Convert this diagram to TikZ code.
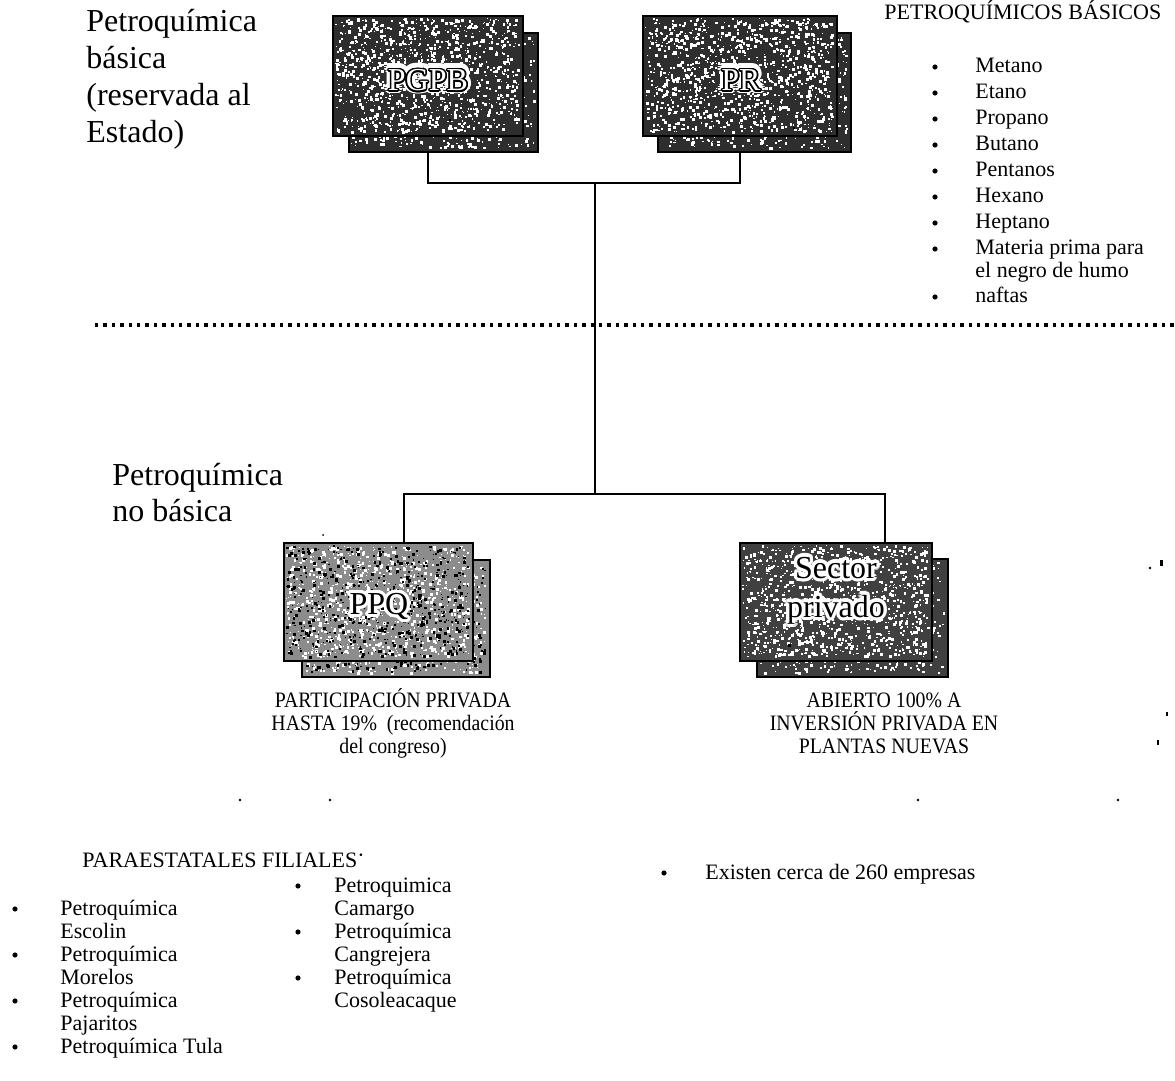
\documentclass[tikz,border=0pt]{standalone}
\usepackage{fontspec}
\setmainfont{Liberation Serif}
\newfontfamily\condfont[FakeStretch=0.9]{Liberation Serif}
\usepackage{contour}
\tikzset{
  conn/.style={line width=1pt, draw=black},
  dotline/.style={line width=1.7pt, dash pattern=on 1.7pt off 2.5pt},
  boxshape/.style={draw=black, line width=1.3pt, anchor=north west, inner sep=0pt, outer sep=0pt},
  blt/.style={circle, fill=black, inner sep=0pt, minimum size=2.6pt},
  small/.style={font=\fontsize{11}{13}\selectfont, inner sep=0pt},
  captxt/.style={font=\condfont\fontsize{11}{13}\selectfont, inner sep=0pt, anchor=base},
  big/.style={font=\fontsize{16}{18}\selectfont, inner sep=0pt, anchor=base west},
  boxlbl/.style={font=\fontsize{16}{19.5}\selectfont, inner sep=0pt, align=center},
}
\newcommand\speckbox[8]{%
  \node[boxshape, fill=#6, minimum width={(#4-#2)*0.5pt}, minimum height={(#5-#3)*0.5pt}] (#1) at (#2,#3) {};
  \foreach \k in {1,...,#7}{%
    \pgfmathsetmacro\sx{#2+2+rnd*(#4-#2-7)}%
    \pgfmathsetmacro\sy{#3+2+rnd*(#5-#3-7)}%
    \pgfmathsetmacro\ss{0.8+rnd*2.4}%
    \fill[white] (\sx,\sy) rectangle ++(\ss,\ss);
  }
  \foreach \k in {1,...,#8}{%
    \pgfmathsetmacro\sx{#2+2+rnd*(#4-#2-7)}%
    \pgfmathsetmacro\sy{#3+2+rnd*(#5-#3-7)}%
    \pgfmathsetmacro\ss{0.8+rnd*2.4}%
    \fill[black] (\sx,\sy) rectangle ++(\ss,\ss);
  }
}
\begin{document}
\begin{tikzpicture}[x=0.5pt,y=-0.5pt]
\pgfmathsetseed{7}
\fill[white] (0,0) rectangle (1175,1081);
\useasboundingbox (0,0) rectangle (1175,1081);

% ---------- upper boxes ----------
\speckbox{pgpbB}{349}{33}{538}{152}{black!82}{700}{1}
\speckbox{pgpb}{333}{16}{523}{136}{black!82}{1100}{1}
\speckbox{prB}{658}{33}{851}{152}{black!82}{700}{1}
\speckbox{pr}{643}{16}{837}{136}{black!82}{1100}{1}

\node[boxlbl] (lPGPBh) at (428,81) {\contourlength{2.4pt}\contour{white}{\textcolor{white}{PGPB}}};
\node[boxlbl] (lPGPB) at (428,81) {\contourlength{0.8pt}\contour{black}{\textcolor{white}{PGPB}}};
\node[boxlbl] (lPRh) at (741,81) {\contourlength{2.4pt}\contour{white}{\textcolor{white}{PR}}};
\node[boxlbl] (lPR) at (741,81) {\contourlength{0.8pt}\contour{black}{\textcolor{white}{PR}}};

% ---------- lower boxes ----------
\speckbox{ppqB}{302}{560}{490}{677}{black!45}{700}{450}
\speckbox{ppq}{284}{543}{473}{661}{black!45}{900}{600}
\speckbox{secB}{757}{559}{948}{677}{black!75}{700}{1}
\speckbox{sec}{740}{543}{932}{661}{black!75}{1000}{1}

\node[boxlbl] (lPPQ) at (379,608) {\contourlength{1.6pt}\contour{white}{PPQ}};
\node[boxlbl] (lSec) at (836,592) {\contourlength{1.6pt}\contour{white}{Sector}\\\contourlength{1.6pt}\contour{white}{privado}};

% ---------- connectors ----------
\coordinate (j1) at (595,183);
\coordinate (j2) at (595,494);
\coordinate (c1) at (404,494);
\coordinate (c2) at (885,494);
\draw[conn] (pgpb.center |- pgpbB.south) |- (j1) -| (pr.center |- prB.south);
\draw[conn] (j1) -- (j2);
\draw[conn] (c1 |- ppq.north) -- (c1) -- (c2) -- (c2 |- sec.north);

% dotted separator
\coordinate (d1) at (95,325);
\coordinate (d2) at (1175,325);
\draw[dotline] (d1) -- (d2);

% ---------- big labels ----------
\node[big] (tb1) at (86,32) {Petroquímica};
\node[big] (tb2) at (86,69) {básica};
\node[big] (tb3) at (86,106) {(reservada al};
\node[big] (tb4) at (86,143) {Estado)};
\node[big] (tn1) at (112,486) {Petroquímica};
\node[big] (tn2) at (112,522) {no básica};

% ---------- petroquimicos basicos ----------
\node[small, anchor=base west] (hdrPB) at (884,20) {PETROQUÍMICOS BÁSICOS};
\foreach \t/\yy/\bl [count=\i] in {Metano/73/1, Etano/99/1, Propano/125/1, Butano/151/1, Pentanos/177/1, Hexano/203/1, Heptano/229/1, Materia prima para/255/1, el negro de humo/278/0, naftas/303/1}{
  \node[small, anchor=base west] (pb\i) at (975,\yy) {\t};
  \ifnum\bl=1 \node[blt] (pbb\i) at (935,\yy-6) {}; \fi
}

% ---------- captions ----------
\node[captxt] (cp1) at (393,707) {PARTICIPACIÓN PRIVADA};
\node[captxt] (cp2) at (393,730) {HASTA 19\%\ \ (recomendación};
\node[captxt] (cp3) at (393,753) {del congreso)};
\node[captxt] (cs1) at (884,707) {ABIERTO 100\% A};
\node[captxt] (cs2) at (884,730) {INVERSIÓN PRIVADA EN};
\node[captxt] (cs3) at (884,753) {PLANTAS NUEVAS};

% ---------- paraestatales ----------
\node[small, anchor=base west] (hdrPF) at (82,867) {PARAESTATALES FILIALES\raisebox{0.4ex}{·}};
\foreach \t/\yy/\bl [count=\i] in {Petroquímica/915/1, Escolin/938/0, Petroquímica/961/1, Morelos/984/0, Petroquímica/1007/1, Pajaritos/1030/0, Petroquímica Tula/1053/1}{
  \node[small, anchor=base west] (pa\i) at (60,\yy) {\t};
  \ifnum\bl=1 \node[blt] (pab\i) at (15,\yy-6) {}; \fi
}
\foreach \t/\yy/\bl [count=\i] in {Petroquimica/892/1, Camargo/915/0, Petroquímica/938/1, Cangrejera/961/0, Petroquímica/984/1, Cosoleacaque/1007/0}{
  \node[small, anchor=base west] (pc\i) at (334,\yy) {\t};
  \ifnum\bl=1 \node[blt] (pcb\i) at (298,\yy-6) {}; \fi
}

% ---------- empresas ----------
\node[blt] (eb) at (664,873) {};
\node[small, anchor=base west] (emp) at (705,879) {Existen cerca de 260 empresas};

% ---------- scan specks ----------
\fill (240,800) circle (1.3);
\fill (330,800) circle (1.3);
\fill (918,800) circle (1.3);
\fill (1118,800) circle (1.3);
\fill (323,535) circle (1);
\fill (1150,568) circle (1.3);
\fill (1160,566) rectangle ++(3,-6);
\fill (1166,712) rectangle ++(2,4);
\fill (1157,740) rectangle ++(2,5);
\end{tikzpicture}
\end{document}
